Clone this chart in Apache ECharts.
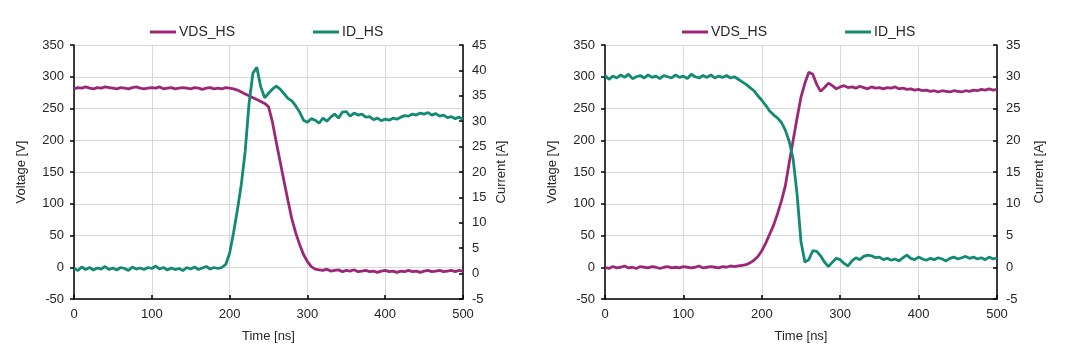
<!DOCTYPE html>
<html>
<head>
<meta charset="utf-8">
<script src="https://cdn.jsdelivr.net/npm/echarts@6/dist/echarts.min.js"></script>
<style>
  html, body { margin: 0; padding: 0; background: #fff; }
  #chart { width: 1080px; height: 352px; }
</style>
</head>
<body>
<div id="chart"></div>
<script>
// time axis, ns (5 ns steps)
var time = [0,5,10,15,20,25,30,35,40,45,50,55,60,65,70,75,80,85,90,95,
  100,105,110,115,120,125,130,135,140,145,150,155,160,165,170,175,180,185,190,195,
  200,205,210,215,220,225,230,235,240,245,250,255,260,265,270,275,280,285,290,295,
  300,305,310,315,320,325,330,335,340,345,350,355,360,365,370,375,380,385,390,395,
  400,405,410,415,420,425,430,435,440,445,450,455,460,465,470,475,480,485,490,495,500];

// left plot: turn-on
var vdsLeft = [281,283,282,284,282,281,283,282,284,283,
  282,281,283,282,281,283,284,282,281,282,
  283,282,284,281,282,283,281,282,283,282,
  281,283,282,280,282,283,281,282,281,283,
  282,281,279,276,273,270,267,264,261,258,
  253,229,197,166,135,105,76,54,36,20,9,1,
  -3,-4,-5,-3,-6,-5,-4,-7,-5,-6,-4,-7,-6,-5,-7,-6,-8,-6,-5,-7,
  -6,-8,-6,-7,-5,-7,-6,-8,-6,-5,-7,-6,-5,-7,-6,-5,-7,-5,-6];
var idLeft = [1.0,0.6,1.3,0.8,1.2,0.7,1.1,0.9,1.4,0.8,
  1.1,0.7,1.2,1.0,0.6,1.3,0.9,1.1,0.8,1.2,
  1.0,1.5,0.9,1.2,0.7,1.1,0.8,1.0,0.6,1.2,
  0.9,1.3,0.8,1.1,1.4,0.9,1.2,1.0,
  1.2,1.8,4,8,12.5,17.5,24,33.5,39.5,40.6,36.8,34.6,35.5,36.3,36.9,36.3,35.4,34.5,34,33,31.8,30.2,29.8,
  30.5,30.2,29.6,30.6,30,30.8,31.4,30.6,31.8,31.9,31,31.6,31.2,31.4,30.8,30.9,30.3,30.6,30.1,30.4,
  30.2,30.6,30.4,30.8,31.1,31,31.4,31.2,31.6,31.4,31.7,31.2,31.5,31,31.2,30.7,30.9,30.5,30.8,30.4];

// right plot: turn-off
var vdsRight = [0,-2,1,-1,0,2,-1,0,-2,1,
  0,-1,1,0,-2,0,1,-1,0,-1,
  1,0,-1,0,2,-1,0,1,0,-1,
  1,0,2,1,
  2,3,4,7,11,17,26,38,52,66,84,104,128,165,200,235,268,290,307,304,288,277,283,290,286,281,
  284,286,283,284,282,285,283,281,284,282,283,281,283,282,284,281,282,280,281,279,
  280,278,279,277,278,276,278,277,276,278,277,276,278,277,279,278,280,279,281,279,280];
var idRight = [30.2,29.6,30.1,29.8,30.3,29.9,30.4,29.7,30.0,30.2,
  29.8,30.3,29.9,30.1,29.7,30.2,30.0,29.8,30.3,29.9,
  30.1,29.7,30.4,30.0,29.8,30.2,29.9,30.3,29.8,30.1,
  29.9,30.2,29.8,30.0,
  29.6,29.2,28.8,28.3,27.8,27.0,26.3,25.5,24.6,24.0,23.5,22.8,21.6,19.8,17,11.5,4,0.8,1.2,2.6,2.5,1.8,0.8,0.1,0.8,1.4,
  1.2,0.6,0.2,1.0,1.5,1.2,1.7,1.9,1.8,1.5,1.6,1.2,1.4,1.1,1.3,1.0,1.5,1.9,1.4,1.2,
  1.6,1.3,1.1,1.4,1.2,1.5,1.3,1.0,1.4,1.6,1.3,1.5,1.7,1.4,1.6,1.3,1.5,1.2,1.6,1.3,1.5];

function pairs(vals) {
  return vals.map(function (v, i) { return [time[i], v]; });
}

var FONT = '"Liberation Sans", Arial, sans-serif';
var TXT = '#262626';
var VDS_COLOR = '#9b2777';
var ID_COLOR = '#128a74';

function xAxisFor(gridIndex) {
  return {
    type: 'value', gridIndex: gridIndex, min: 0, max: 500, interval: 100,
    name: 'Time [ns]', nameLocation: 'middle', nameGap: 31,
    nameTextStyle: { fontFamily: FONT, fontSize: 13, color: TXT },
    axisLine: { onZero: false, lineStyle: { color: '#000', width: 1.5 } },
    axisTick: { inside: true, length: 4, lineStyle: { color: '#000', width: 1.5 } },
    axisLabel: { fontFamily: FONT, fontSize: 13, color: TXT, margin: 9 },
    splitLine: { show: true, lineStyle: { color: '#d9d9d9', width: 1 } }
  };
}

function voltAxis(gridIndex) {
  return {
    type: 'value', gridIndex: gridIndex, position: 'left', min: -50, max: 350, interval: 50,
    name: 'Voltage [V]', nameLocation: 'middle', nameGap: 46, nameRotate: 90,
    nameTextStyle: { fontFamily: FONT, fontSize: 13, color: TXT },
    axisLine: { show: true, onZero: false, lineStyle: { color: '#000', width: 1.5 } },
    axisTick: { show: true, length: 4, lineStyle: { color: '#000', width: 1.5 } },
    axisLabel: { fontFamily: FONT, fontSize: 13, color: TXT, margin: 10 },
    splitLine: { show: true, lineStyle: { color: '#d9d9d9', width: 1 } }
  };
}

function currAxis(gridIndex, max, gap) {
  return {
    type: 'value', gridIndex: gridIndex, position: 'right', min: -5, max: max, interval: 5,
    name: 'Current [A]', nameLocation: 'middle', nameGap: gap, nameRotate: 90,
    nameTextStyle: { fontFamily: FONT, fontSize: 13, color: TXT },
    axisLine: { show: true, onZero: false, lineStyle: { color: '#000', width: 1.5 } },
    axisTick: { show: true, inside: true, length: 4, lineStyle: { color: '#000', width: 1.5 } },
    axisLabel: { fontFamily: FONT, fontSize: 13, color: TXT, margin: 9 },
    splitLine: { show: false }
  };
}

function legendAt(left) {
  return {
    left: left, top: 20, itemGap: 78, itemWidth: 26, itemHeight: 3, icon: 'rect',
    data: ['VDS_HS', 'ID_HS'],
    textStyle: { fontFamily: FONT, fontSize: 14, color: TXT, padding: [0, 0, 0, -2] }
  };
}

function lineSeries(name, color, xi, yi, vals) {
  return {
    name: name, type: 'line', xAxisIndex: xi, yAxisIndex: yi,
    data: pairs(vals), showSymbol: false, symbol: 'none',
    lineStyle: { color: color, width: 2.8 }, itemStyle: { color: color }
  };
}

var chart = echarts.init(document.getElementById('chart'));
chart.setOption({
  animation: false,
  backgroundColor: '#fff',
  legend: [legendAt(145), legendAt(677)],
  grid: [
    { left: 74, right: 617, top: 45, bottom: 53 },
    { left: 605, right: 83, top: 45, bottom: 53 }
  ],
  xAxis: [xAxisFor(0), xAxisFor(1)],
  yAxis: [voltAxis(0), currAxis(0, 45, 32), voltAxis(1), currAxis(1, 35, 36)],
  series: [
    lineSeries('VDS_HS', VDS_COLOR, 0, 0, vdsLeft),
    lineSeries('ID_HS', ID_COLOR, 0, 1, idLeft),
    lineSeries('VDS_HS', VDS_COLOR, 1, 2, vdsRight),
    lineSeries('ID_HS', ID_COLOR, 1, 3, idRight)
  ]
});
</script>
</body>
</html>
